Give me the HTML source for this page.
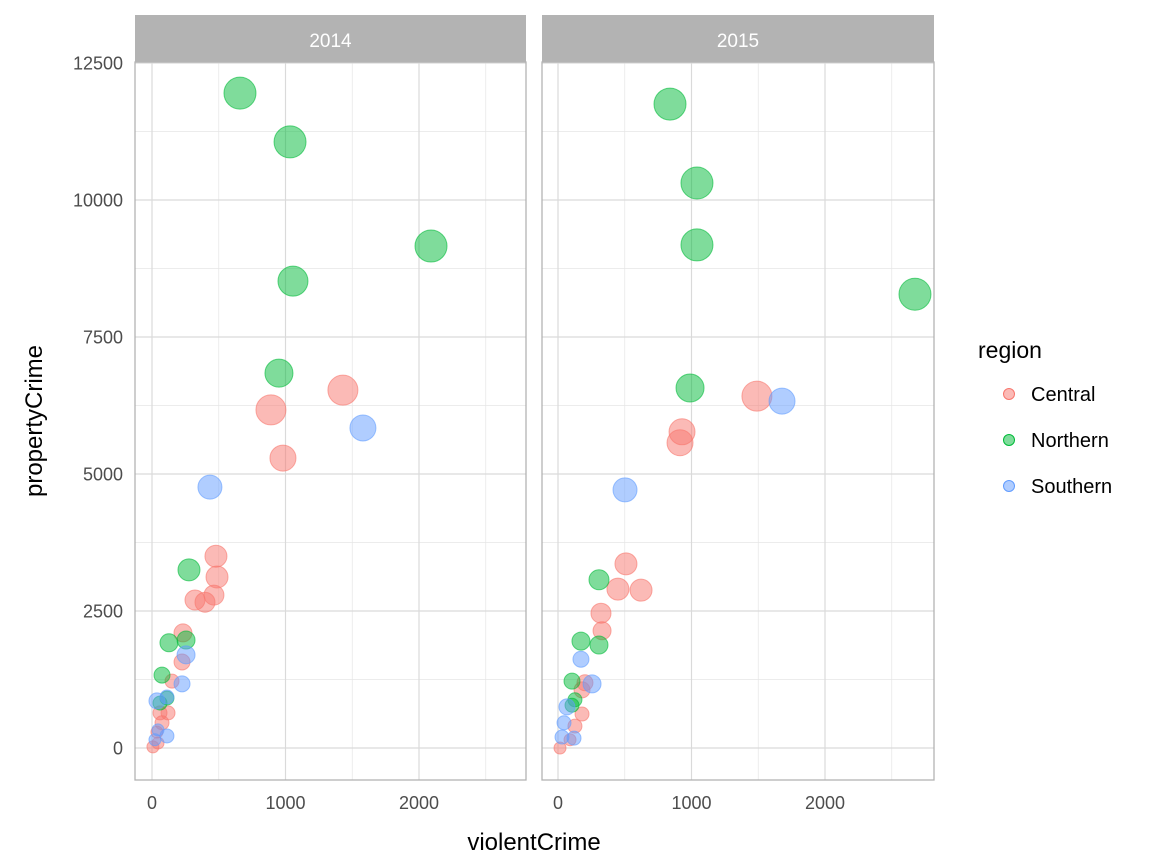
<!DOCTYPE html>
<html><head><meta charset="utf-8"><style>
body{margin:0;background:#fff}
svg{display:block;font-family:"Liberation Sans",Arial,sans-serif}
</style></head><body>
<svg id="c" width="1152" height="864"></svg>
<script>
const years=["2014","2015"];
const regions=["Central","Northern","Southern"];
const colors=["#F8766D","#00BA38","#619CFF"];
const xTicks=[0,1000,2000];
const yTicks=[0,2500,5000,7500,10000,12500];
// 2014
const v14Central=[1430,891,981,479,487,464,322,397,232,225,150,60,120,75,37,45,7];
const p14Central=[6530,6170,5290,3500,3120,2790,2700,2660,2100,1570,1220,640,640,460,290,90,20];
const s14Central=[225,225,169,121,121,100,100,100,81,64,49,49,49,49,36,36,36];
const v14Northern=[659,1034,1056,2090,951,277,255,127,75,112,60];
const p14Northern=[11950,11060,8520,9160,6840,3250,1970,1920,1330,910,820];
const s14Northern=[256,256,225,256,196,121,81,81,64,49,49];
const v14Southern=[434,1580,255,225,37,112,112,45,22];
const p14Southern=[4760,5840,1700,1170,860,930,220,330,150];
const s14Southern=[144,169,81,64,64,49,49,36,36];
// 2015
const v15Central=[1490,929,914,509,449,622,322,330,202,180,180,127,90,15];
const p15Central=[6420,5770,5570,3360,2900,2880,2460,2140,1190,1060,620,400,150,0];
const s15Central=[225,169,169,121,121,121,100,81,64,64,49,49,36,36];
const v15Northern=[839,1041,1041,2674,989,307,172,307,105,127,105];
const p15Northern=[11750,10310,9180,8280,6570,3070,1950,1880,1220,880,780];
const s15Northern=[256,256,256,256,196,100,81,81,64,49,49];
const v15Southern=[1678,502,255,172,67,45,120,30];
const p15Southern=[6330,4710,1170,1620,750,460,180,200];
const s15Southern=[169,144,81,64,64,49,49,49];

const series=[
 [0,0,v14Central,p14Central,s14Central],[0,1,v14Northern,p14Northern,s14Northern],[0,2,v14Southern,p14Southern,s14Southern],
 [1,0,v15Central,p15Central,s15Central],[1,1,v15Northern,p15Northern,s15Northern],[1,2,v15Southern,p15Southern,s15Southern]];
const NS="http://www.w3.org/2000/svg";
const svg=document.getElementById('c');
function el(t,a,p){const e=document.createElementNS(NS,t);for(const k in a)e.setAttribute(k,a[k]);(p||svg).appendChild(e);return e;}
const panels=[{x0:135,x1:526,z:152},{x0:542,x1:934,z:558}];
const plotTop=62,plotBot=780;
function X(p,v){return panels[p].z+v*0.1335;}
function Y(v){return 748-v*0.0548;}
panels.forEach((pp,p)=>{
  const g=el('g',{});
  
  
  for(const m of [500,1500,2500]){const x=X(p,m);if(x<pp.x1)el('line',{x1:x,x2:x,y1:plotTop,y2:plotBot,stroke:'#e6e6e6','stroke-width':0.7},g);}
  for(const m of [1250,3750,6250,8750,11250]){const y=Y(m);el('line',{x1:pp.x0,x2:pp.x1,y1:y,y2:y,stroke:'#e6e6e6','stroke-width':0.7},g);}
  xTicks.forEach(t=>{const x=X(p,t);el('line',{x1:x,x2:x,y1:plotTop,y2:plotBot,stroke:'#dadada','stroke-width':1.2},g);
    const tl=el('text',{x:x,y:809,'text-anchor':'middle','font-size':18,fill:'#4d4d4d'},g);tl.textContent=t;
    });
  yTicks.forEach(t=>{const y=Y(t);el('line',{x1:pp.x0,x2:pp.x1,y1:y,y2:y,stroke:'#dadada','stroke-width':1.2},g);
    if(p==0){const tl=el('text',{x:123,y:y+6.5,'text-anchor':'end','font-size':18,fill:'#4d4d4d'});tl.textContent=t;
    }});
  el('rect',{x:pp.x0,y:plotTop,width:pp.x1-pp.x0,height:plotBot-plotTop,fill:'none',stroke:'#b3b3b3','stroke-width':1.3},g);
  const s=el('rect',{x:pp.x0,y:15,width:pp.x1-pp.x0,height:47,fill:'#b3b3b3'},g);
  
  
  const st=el('text',{x:(pp.x0+pp.x1)/2,y:47,'text-anchor':'middle','font-size':19,fill:'#fff'},g);st.textContent=years[p];
});
series.forEach(([p,r,vs,ps,ss])=>{
  const c=colors[r];
  for(let i=0;i<vs.length;i++){
    const pt=el('circle',{cx:X(p,vs[i]),cy:Y(ps[i]),r:Math.sqrt(ss[i]),fill:c,'fill-opacity':0.5,stroke:c,'stroke-opacity':0.6,'stroke-width':1});
    
    
  }
});
const xt=el('text',{x:534,y:850,'text-anchor':'middle','font-size':24,fill:'#000'});xt.textContent='violentCrime';


const yt=el('text',{x:0,y:0,'text-anchor':'middle','font-size':24,fill:'#000',transform:'translate(42,421) rotate(-90)'});yt.textContent='propertyCrime';


const lt=el('text',{x:978,y:358,'font-size':23,fill:'#000'});lt.textContent='region';


regions.forEach((r,i)=>{const y=394+i*46;
  const g=el('g',{});
  
  
  el('circle',{cx:1009,cy:y,r:5.5,fill:colors[i],'fill-opacity':0.5,stroke:colors[i],'stroke-width':1},g);
  const t=el('text',{x:1031,y:y+7,'font-size':20,fill:'#000'},g);t.textContent=r;});
</script>
</body></html>
